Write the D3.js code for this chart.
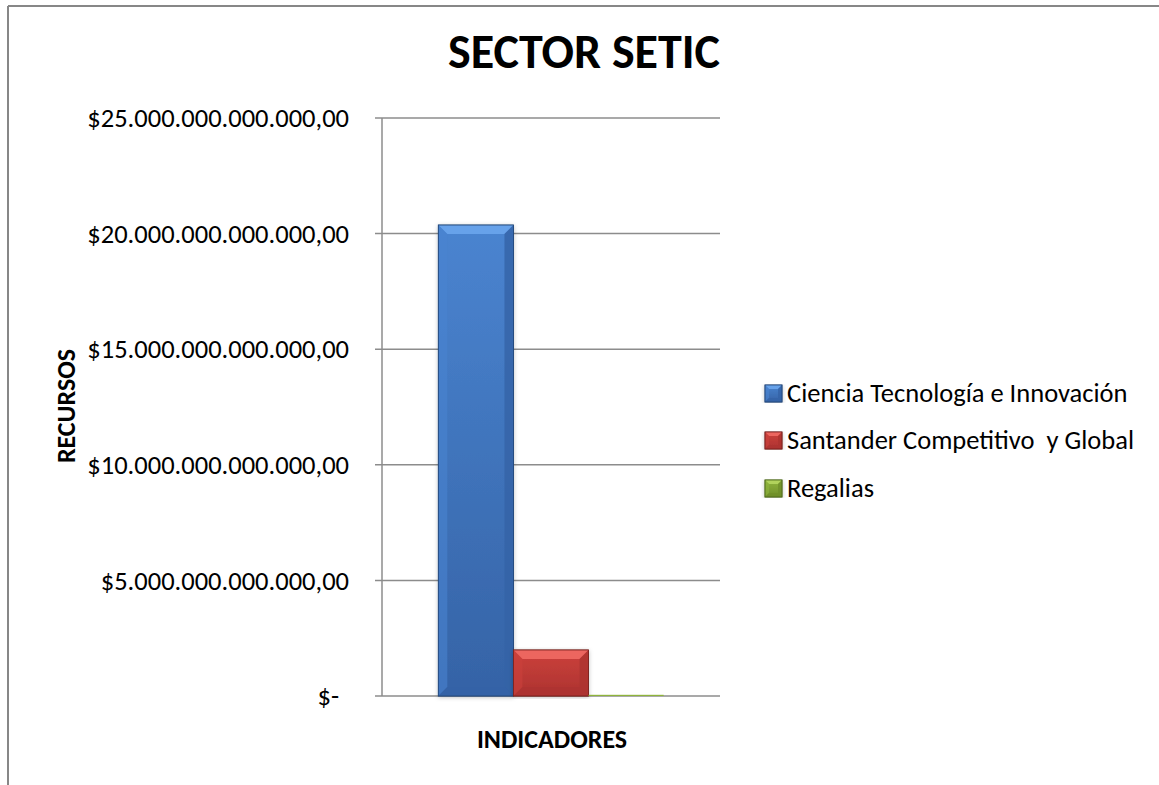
<!DOCTYPE html>
<html>
<head>
<meta charset="utf-8">
<script src="https://cdn.jsdelivr.net/npm/d3@7"></script>
<style>
  html, body { margin: 0; padding: 0; background: #fff; }
  svg text { font-family: Carlito, Calibri, Lato, "Open Sans", sans-serif; fill: #000; }
</style>
</head>
<body>
<svg id="chart" width="1159" height="785"></svg>
<script>
// ---- data ----
const chartTitle = "SECTOR SETIC";
const xAxisTitle = "INDICADORES";
const yAxisTitle = "RECURSOS";
const categories = [""];
const seriesNames = ["Ciencia Tecnología e Innovación", "Santander Competitivo  y Global", "Regalias"];
const seriesValues = [20370000000000, 1990000000000, 15000000000];
const yTickValues = [0, 5e12, 10e12, 15e12, 20e12, 25e12];
const yTickLabels = ["$-", "$5.000.000.000.000,00", "$10.000.000.000.000,00", "$15.000.000.000.000,00", "$20.000.000.000.000,00", "$25.000.000.000.000,00"];
const seriesColors = [
  { light: "#6aa5ec", mid: "#4a84d0", dark: "#3563a6", edge: "#24497c" },
  { light: "#ef6a64", mid: "#cc413c", dark: "#ad3330", edge: "#7a2220" },
  { light: "#b5d660", mid: "#8fb43c", dark: "#6f8f2a", edge: "#4f6a1c" }
];

// ---- layout ----
const svg = d3.select("#chart");
const plot = { left: 382, right: 720, top: 118, bottom: 696 };

const y = d3.scaleLinear().domain([0, 25e12]).range([plot.bottom, plot.top]);
const x0 = d3.scaleBand().domain(categories).range([plot.left, plot.right]).paddingInner(0).paddingOuter(0);
const x1 = d3.scaleBand().domain(seriesNames).range([0, x0.bandwidth()]).paddingInner(0).paddingOuter(0.75);

// outer frame
svg.append("line").attr("x1", 8).attr("x2", 1159).attr("y1", 6).attr("y2", 6)
  .attr("stroke", "#878787").attr("stroke-width", 2);
svg.append("line").attr("x1", 8).attr("x2", 8).attr("y1", 6).attr("y2", 785)
  .attr("stroke", "#878787").attr("stroke-width", 2);

// defs
const defs = svg.append("defs");
seriesColors.forEach((c, i) => {
  const g = defs.append("linearGradient").attr("id", "grad" + i)
    .attr("x1", 0).attr("y1", 0).attr("x2", 0).attr("y2", 1);
  g.append("stop").attr("offset", "0%").attr("stop-color", c.mid);
  g.append("stop").attr("offset", "100%").attr("stop-color", c.dark);
});
const sh = defs.append("filter").attr("id", "shadow").attr("x", "-20%").attr("y", "-5%").attr("width", "140%").attr("height", "110%");
sh.append("feDropShadow").attr("dx", 0).attr("dy", 1).attr("stdDeviation", 2).attr("flood-color", "#000").attr("flood-opacity", 0.25);

// gridlines
const grid = svg.append("g");
grid.selectAll("line").data(yTickValues).join("line")
  .attr("x1", plot.left - 7).attr("x2", plot.right)
  .attr("y1", d => y(d)).attr("y2", d => y(d))
  .attr("stroke", "#8c8c8c").attr("stroke-width", 1.5);

// y axis line
svg.append("line").attr("x1", plot.left).attr("x2", plot.left)
  .attr("y1", plot.top).attr("y2", plot.bottom)
  .attr("stroke", "#8c8c8c").attr("stroke-width", 1.5);

// y tick labels
svg.append("g").selectAll("text").data(yTickValues).join("text")
  .attr("x", 349)
  .attr("dx", (d, i) => i === 0 ? -10 : 0)
  .attr("y", d => y(d))
  .attr("dy", "0.35em")
  .attr("text-anchor", "end")
  .attr("font-size", 26.5)
  .text((d, i) => yTickLabels[i]);

// bars with bevel
function bevelBar(g, bx, by, bw, bh, c, i, bevel) {
  g.append("rect").attr("x", bx).attr("y", by).attr("width", bw).attr("height", bh)
    .attr("fill", `url(#grad${i})`).attr("stroke", c.edge).attr("stroke-width", 0.8)
    .attr("filter", "url(#shadow)");
  const b = Math.min(bevel, bh / 2, bw / 2);
  if (bh < 2) return;
  g.append("polygon").attr("points", [[bx, by], [bx + bw, by], [bx + bw - b, by + b], [bx + b, by + b]].join(" "))
    .attr("fill", c.light).attr("opacity", 0.9);
  g.append("polygon").attr("points", [[bx, by], [bx + b, by + b], [bx + b, by + bh - b], [bx, by + bh]].join(" "))
    .attr("fill", c.mid).attr("opacity", 0.6);
  g.append("polygon").attr("points", [[bx + bw, by], [bx + bw - b, by + b], [bx + bw - b, by + bh - b], [bx + bw, by + bh]].join(" "))
    .attr("fill", c.dark).attr("opacity", 0.8);
  g.append("polygon").attr("points", [[bx, by + bh], [bx + b, by + bh - b], [bx + bw - b, by + bh - b], [bx + bw, by + bh]].join(" "))
    .attr("fill", c.dark).attr("opacity", 0.7);
  g.append("rect").attr("x", bx).attr("y", by).attr("width", bw).attr("height", bh)
    .attr("fill", "none").attr("stroke", c.edge).attr("stroke-width", 0.8);
}

const barsG = svg.append("g");
categories.forEach(cat => {
  seriesNames.forEach((s, i) => {
    const v = seriesValues[i];
    const bx = x0(cat) + x1(s);
    const bw = x1.bandwidth();
    const by = y(v);
    const bh = Math.max(y(0) - y(v), 0);
    const g = barsG.append("g");
    if (bh >= 2) bevelBar(g, bx, by, bw, bh, seriesColors[i], i, 9);
    else g.append("rect").attr("x", bx).attr("y", y(0) - 1.2).attr("width", bw).attr("height", 1.2).attr("fill", seriesColors[i].mid);
  });
});

// title
svg.append("text").attr("x", 584).attr("y", 68).attr("text-anchor", "middle")
  .attr("font-size", 48).attr("font-weight", "bold").text(chartTitle);

// axis titles
svg.append("text").attr("x", 552).attr("y", 748).attr("text-anchor", "middle")
  .attr("font-size", 26).attr("font-weight", "bold").text(xAxisTitle);
svg.append("text").attr("transform", "translate(75,406) rotate(-90)").attr("text-anchor", "middle")
  .attr("font-size", 26).attr("font-weight", "bold").text(yAxisTitle);

// legend
const legend = svg.append("g");
const legY = [393, 440, 488];
seriesNames.forEach((s, i) => {
  const c = seriesColors[i];
  const g = legend.append("g");
  bevelBar(g, 765, legY[i] - 8, 17, 17, c, i, 4);
  g.append("text").attr("x", 787).attr("y", legY[i]).attr("dy", "0.35em")
    .attr("font-size", 26.5).style("white-space", "pre").attr("xml:space", "preserve").text(s);
});
</script>
</body>
</html>
